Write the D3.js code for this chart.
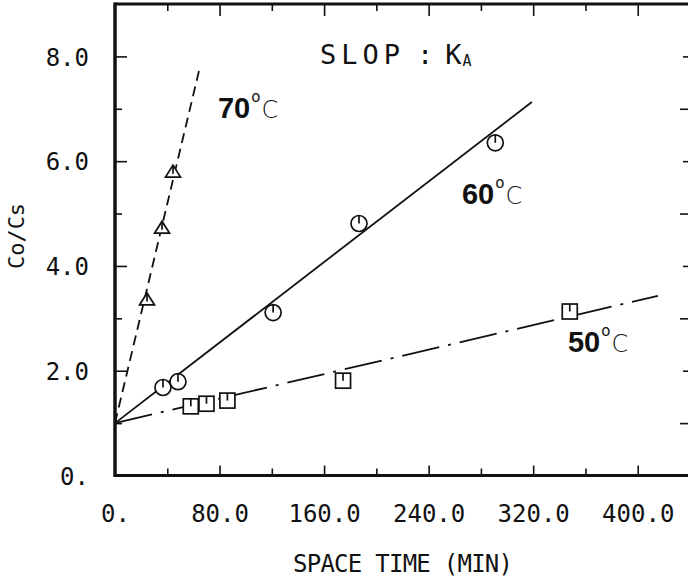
<!DOCTYPE html>
<html>
<head>
<meta charset="utf-8">
<script src="https://cdn.jsdelivr.net/npm/d3@7"></script>
<style>
  body { margin: 0; background: #fff; }
  text { fill: #111; }
</style>
</head>
<body>
<svg id="chart"></svg>
<script>
'use strict'

// measured points (space time in min, Co/Cs)
const time50 = [58, 70, 86, 174.5, 348]
const ratio50 = [1.32, 1.37, 1.43, 1.81, 3.13]
const time60 = [36.7, 48.2, 121, 186.7, 291]
const ratio60 = [1.68, 1.79, 3.11, 4.81, 6.35]
const time70 = [24.5, 36, 44.4]
const ratio70 = [3.36, 4.73, 5.80]

// fitted straight lines, start and end point
const fitTime50 = [0, 415.5]
const fitRatio50 = [1.0, 3.43]
const fitTime60 = [0, 319]
const fitRatio60 = [1.0, 7.13]
const fitTime70 = [0, 65]
const fitRatio70 = [1.0, 7.8]

const xMajor = [80, 160, 240, 320, 400]
const xMinor = [40, 120, 200, 280, 360]
const xLabels = [0, 80, 160, 240, 320, 400]
const yEven = [2, 4, 6, 8]
const yOdd = [1, 3, 5, 7]
const yLabels = [0, 2, 4, 6, 8]

// label anchors in data units
const tempNames = ['70', '60', '50']
const tempTime = [78.8, 265.5, 346.6]
const tempRatio = [6.83, 5.19, 2.35]

const width = 688
const height = 578
const mono = '"DejaVu Sans Mono", monospace'

const x = d3.scaleLinear().domain([0, 440]).range([115, 690])
const y = d3.scaleLinear().domain([0, 9]).range([475.5, 4])

const svg = d3.select('#chart')
    .attr('width', width)
    .attr('height', height)

// inward ticks
function ticks(axis, values, size, transform) {
  svg.append('g')
      .attr('transform', transform)
      .call(axis.tickValues(values).tickSizeInner(size).tickSizeOuter(0).tickFormat(''))
      .call(g => g.select('.domain').remove())
      .call(g => g.selectAll('line').attr('stroke', '#111').attr('stroke-width', 1.6))
}
ticks(d3.axisBottom(x), xMajor, -10, 'translate(0,' + y(0) + ')')
ticks(d3.axisBottom(x), xMinor, -7, 'translate(0,' + y(0) + ')')
ticks(d3.axisTop(x), xMajor, -12, 'translate(0,' + y(9) + ')')
ticks(d3.axisTop(x), xMinor, -7, 'translate(0,' + y(9) + ')')
ticks(d3.axisLeft(y), yEven, -12, 'translate(' + x(0) + ',0)')
ticks(d3.axisLeft(y), yOdd, -7, 'translate(' + x(0) + ',0)')
ticks(d3.axisRight(y), yOdd, -10, 'translate(' + x(440) + ',0)')
ticks(d3.axisRight(y), yEven, -7, 'translate(' + x(440) + ',0)')

// frame
const frame = svg.append('g').attr('stroke', '#111').attr('fill', 'none')
frame.append('line').attr('x1', x(0)).attr('x2', x(0)).attr('y1', y(9) - 1.5).attr('y2', y(0) + 1.5).attr('stroke-width', 3.5)
frame.append('line').attr('x1', x(0)).attr('x2', x(440)).attr('y1', y(0)).attr('y2', y(0)).attr('stroke-width', 3)
frame.append('line').attr('x1', x(0)).attr('x2', x(440)).attr('y1', y(9)).attr('y2', y(9)).attr('stroke-width', 3)
frame.append('line').attr('x1', x(440)).attr('x2', x(440)).attr('y1', y(9)).attr('y2', y(0)).attr('stroke-width', 3)

// tick labels
svg.append('g')
    .attr('transform', 'translate(0,522)')
    .call(d3.axisBottom(x).tickValues(xLabels).tickSize(0)
      .tickFormat(d => d === 0 ? '0.' : d3.format('.1f')(d)))
    .call(g => g.select('.domain').remove())
    .call(g => g.selectAll('text').attr('y', 0).attr('dy', null)
      .style('font-family', mono).style('font-size', '24px').attr('fill', '#111'))

svg.append('g')
    .attr('transform', 'translate(89,0)')
    .call(d3.axisLeft(y).tickValues(yLabels).tickSize(0).tickPadding(0)
      .tickFormat(d => d === 0 ? '0.' : d3.format('.1f')(d)))
    .call(g => g.select('.domain').remove())
    .call(g => g.selectAll('text').attr('dy', '0.36em')
      .style('font-family', mono).style('font-size', '24px').attr('fill', '#111'))

// axis titles
svg.append('text')
    .attr('x', 293).attr('y', 572)
    .attr('textLength', 220)
    .style('font-family', mono).style('font-size', '24px')
    .text('SPACE TIME (MIN)')

svg.append('text')
    .attr('transform', 'translate(24,236) rotate(-90)')
    .attr('text-anchor', 'middle')
    .style('font-family', mono).style('font-size', '22px')
    .text('Co/Cs')

// fitted lines
const line = d3.line().x(d => x(d[0])).y(d => y(d[1]))
function fit(ts, rs, dash) {
  svg.append('path')
      .datum(ts.map((t, i) => [t, rs[i]]))
      .attr('d', line)
      .attr('fill', 'none')
      .attr('stroke', '#111')
      .attr('stroke-width', 1.8)
      .attr('stroke-dasharray', dash)
}
fit(fitTime70, fitRatio70, '10,6')
fit(fitTime60, fitRatio60, null)
fit(fitTime50, fitRatio50, '38,9,3,9')

// markers
function markers(ts, rs, shape) {
  const g = svg.append('g').selectAll('g')
      .data(ts.map((t, i) => [t, rs[i]]))
    .enter().append('g')
      .attr('transform', d => 'translate(' + x(d[0]) + ',' + y(d[1]) + ')')
      .attr('fill', '#fff')
      .attr('stroke', '#111')
      .attr('stroke-width', 1.7)
  let top = 8
  if (shape === 'circle') {
    g.append('circle').attr('r', 8)
  } else if (shape === 'square') {
    g.append('rect').attr('x', -7.5).attr('y', -7.5).attr('width', 15).attr('height', 15)
    top = 7.5
  } else {
    top = 6.5
    g.append('path').attr('d', 'M0,-6.5L7.5,5.5L-7.5,5.5Z')
  }
  g.append('line').attr('x1', 0).attr('x2', 0).attr('y1', -top).attr('y2', shape === 'triangle' ? 2 : 0)
}
markers(time70, ratio70, 'triangle')
markers(time60, ratio60, 'circle')
markers(time50, ratio50, 'square')

// temperature labels
const temp = svg.append('g').selectAll('text')
    .data(tempNames)
  .enter().append('text')
    .attr('x', (d, i) => x(tempTime[i]))
    .attr('y', (d, i) => y(tempRatio[i]))
temp.append('tspan')
    .style('font-family', '"Liberation Sans", Arial, sans-serif')
    .style('font-weight', 'bold')
    .style('font-size', '29px')
    .text(d => d)
temp.append('tspan')
    .attr('dx', 1).attr('dy', -16)
    .style('font-family', '"DejaVu Sans", sans-serif')
    .style('font-size', '15px')
    .text('o')
temp.append('tspan')
    .attr('dx', 1).attr('dy', 16)
    .style('font-family', '"DejaVu Sans", sans-serif')
    .style('font-size', '24px')
    .style('font-weight', '300')
    .text('C')

// slope note
const note = svg.append('text')
    .attr('x', x(156.9)).attr('y', y(7.86))
    .style('font-family', mono).style('font-size', '27px')
note.append('tspan').attr('textLength', 80).text('SLOP')
note.append('tspan').attr('dx', 12).text(':')
note.append('tspan').attr('dx', 12).text('K')
note.append('tspan').attr('dx', 1).attr('dy', 2).style('font-size', '15px').text('A')
</script>
</body>
</html>
